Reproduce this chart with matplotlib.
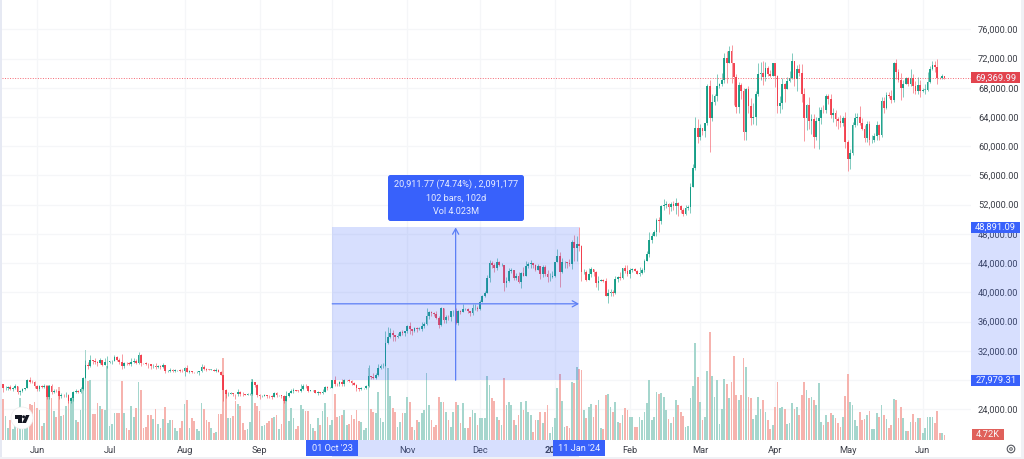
import numpy as np
import pandas as pd
import matplotlib
matplotlib.use("Agg")
import matplotlib.pyplot as plt
from matplotlib.patches import Rectangle, FancyBboxPatch, Circle, Polygon
from matplotlib.transforms import blended_transform_factory

plt.rcParams['font.family'] = ['Roboto', 'DejaVu Sans']

# daily bars, prices in thousands, volume in thousands
first_open = 27.40
closes = [
  26.85,26.88,27.10,26.75,26.85,27.22,26.33,26.47,26.72,26.86,28.07,27.75,27.70,27.22,
  26.82,27.25,27.07,27.12,25.73,27.24,26.34,26.50,26.48,25.85,25.92,25.90,25.92,25.12,25.58,26.33,26.51,26.34,26.84,28.31,30.00,29.89,30.69,30.55,30.47,30.27,30.69,30.08,30.45,30.47,
  30.59,30.62,31.16,30.77,30.51,29.90,30.35,30.29,30.17,30.41,30.62,30.39,31.47,30.32,30.30,30.25,30.14,29.86,29.92,29.80,29.91,29.79,30.08,29.18,29.23,29.35,29.21,29.32,29.35,29.28,29.23,
  29.70,29.17,29.18,29.09,29.05,29.05,29.18,29.77,29.57,29.43,29.40,29.42,29.28,29.40,29.17,28.72,26.62,26.05,26.10,26.19,26.13,26.04,26.43,26.16,26.05,26.01,26.09,26.10,27.73,27.30,25.94,
  25.80,25.87,25.97,25.82,25.78,25.75,26.24,25.90,25.90,25.84,25.16,25.85,26.22,26.53,26.60,26.57,26.53,26.76,27.21,27.13,26.57,26.58,26.58,26.25,26.30,26.21,26.35,27.03,26.91,26.97,
  27.98,27.50,27.43,27.79,27.41,27.95,27.97,27.93,27.59,27.39,26.87,26.76,26.86,26.86,27.15,28.50,28.40,28.33,28.72,29.68,29.92,29.99,33.09,33.90,34.50,34.15,33.91,34.09,34.53,34.50,34.67,
  35.43,34.94,34.73,35.08,35.05,35.05,35.42,35.62,36.70,37.30,37.14,37.07,36.49,35.55,37.88,36.16,36.60,36.57,37.39,37.48,35.81,37.42,37.29,37.72,37.79,37.48,37.24,37.83,37.85,37.72,
  38.69,39.46,39.97,41.98,44.08,43.78,43.29,44.18,43.72,43.79,41.25,41.49,42.89,43.02,41.94,42.28,41.36,42.66,42.27,43.65,43.86,44.00,43.74,43.02,43.59,42.51,43.44,42.58,42.07,42.14,42.28,
  44.18,44.95,42.85,44.15,44.16,43.97,43.93,46.93,46.10,46.65,46.34,42.78,42.84,41.73,42.50,43.14,42.74,41.27,41.62,41.67,41.55,39.51,39.89,40.09,39.93,41.82,42.12,42.03,43.30,42.94,42.58,
  43.08,43.20,42.99,42.58,42.66,43.09,44.34,45.29,47.14,47.77,48.29,49.96,49.70,51.80,51.91,52.12,51.65,52.12,51.78,52.26,51.85,51.30,50.74,51.57,51.73,54.48,57.05,62.50,61.20,
  62.44,62.03,63.17,68.30,63.80,66.10,66.92,68.30,68.50,69.02,72.10,71.45,73.07,71.39,69.50,65.30,68.39,67.61,61.94,67.84,65.50,63.80,64.03,67.21,69.89,69.99,69.45,70.74,69.89,69.65,71.33,
  69.65,65.46,65.96,68.50,67.84,68.90,69.36,71.62,69.14,70.59,70.06,67.12,63.92,65.66,63.42,63.79,61.28,63.47,63.82,64.99,64.93,66.84,66.41,64.28,64.48,63.76,63.42,63.11,63.84,60.64,
  58.25,59.12,62.89,63.89,64.03,63.16,62.31,61.19,63.05,60.79,60.82,61.45,62.93,61.55,66.25,65.23,67.05,66.94,66.28,71.45,70.14,69.12,67.93,68.53,69.29,68.51,69.39,68.30,67.58,68.36,67.49,
  67.71,67.75,68.80,70.55,71.08,70.79,69.35,69.30,69.65,69.37]

highs = [
  27.5,27.2,27.15,27.3,27.05,27.5,27.2,26.6,26.9,26.9,28.2,28.45,28.0,27.85,
  27.3,27.3,27.35,27.45,27.15,27.35,27.4,26.8,26.75,26.55,26.2,26.05,26.4,26.05,25.75,26.45,26.8,26.65,27.0,28.4,30.8,30.5,31.4,30.8,31.05,30.65,31.0,30.7,31.0,31.3,
  30.65,30.8,31.4,31.3,31.0,31.5,30.45,30.45,30.45,31.05,31.0,30.95,31.8,31.6,30.4,30.45,30.35,30.25,30.2,30.4,30.0,30.0,30.3,30.1,29.35,29.65,29.55,29.5,29.4,29.45,29.5,
  29.75,30.05,29.4,29.3,29.1,29.2,29.25,30.15,30.05,29.7,29.55,29.45,29.45,29.65,29.5,29.2,28.75,26.8,26.3,26.3,26.25,26.15,26.8,26.55,26.3,26.1,26.2,26.2,28.1,27.75,27.5,
  26.1,25.95,26.1,26.0,25.9,26.0,26.4,26.4,25.95,25.95,25.9,26.5,26.4,26.8,26.85,26.7,26.65,27.4,27.45,27.4,27.15,26.7,26.65,26.7,26.45,26.4,26.8,27.25,27.2,27.05,
  28.05,28.6,27.65,27.85,28.1,28.2,28.05,28.1,27.95,27.7,27.45,26.95,27.1,26.95,27.3,30.0,28.6,28.95,29.0,30.2,30.2,30.3,34.7,35.2,35.1,34.8,34.2,34.45,34.7,34.85,34.7,
  35.6,35.95,34.95,35.25,35.3,35.3,35.9,35.95,37.9,37.5,37.4,37.25,37.4,36.75,38.0,37.9,36.85,36.85,37.5,37.65,37.85,37.65,37.6,38.4,37.9,37.8,37.5,38.4,38.4,38.15,
  38.95,39.65,40.2,42.4,44.4,44.3,44.0,44.7,44.35,44.0,43.8,42.1,43.4,43.4,43.1,42.7,42.8,42.75,43.5,44.3,44.2,44.4,44.0,43.9,43.95,43.6,43.7,43.8,43.1,42.6,42.9,
  44.2,45.9,45.5,44.7,44.3,44.2,44.5,47.2,47.9,47.7,48.9,46.5,43.2,43.0,43.4,43.5,43.2,42.9,42.2,41.8,41.8,41.9,40.5,40.5,40.3,42.2,42.2,42.8,43.3,43.8,43.7,
  43.3,43.4,43.4,43.1,43.5,43.4,44.5,45.6,48.2,48.1,48.6,50.2,50.3,52.0,52.8,52.5,52.2,52.4,52.5,52.9,52.4,52.0,51.5,51.9,51.9,54.9,57.5,64.0,63.7,
  63.0,62.4,63.2,68.5,69.0,67.1,67.2,69.9,68.7,70.0,72.8,73.0,73.7,73.8,71.2,69.9,68.8,68.7,68.0,68.0,68.2,66.6,65.9,67.5,71.4,71.5,71.6,71.5,71.0,70.4,71.4,
  71.3,69.8,66.9,69.3,68.7,69.5,70.3,72.7,71.7,71.1,71.2,71.3,67.9,65.8,66.8,64.4,64.4,64.0,65.4,65.3,65.6,67.2,67.2,67.1,65.2,65.0,64.0,64.3,64.2,64.7,
  60.8,59.6,63.3,64.5,64.6,65.5,63.8,62.9,63.5,63.4,61.5,61.8,63.4,63.1,66.7,66.7,67.4,67.4,67.7,71.5,71.9,70.6,70.0,69.0,69.5,69.5,70.6,69.9,68.9,69.5,69.0,
  67.9,68.5,70.2,71.0,71.7,71.6,71.9,69.5,69.9,69.6]

lows = [
  26.4,26.65,26.7,26.7,26.55,26.8,26.1,25.9,26.3,26.6,26.85,27.55,27.55,26.85,
  26.5,26.5,26.95,26.95,25.4,25.35,26.1,26.25,26.3,25.4,25.6,25.7,25.75,24.85,24.8,25.2,26.2,26.2,26.25,26.65,28.25,29.55,29.8,30.25,30.25,29.95,30.2,29.9,30.05,29.6,
  30.3,30.2,30.55,30.6,30.2,29.5,29.7,30.05,30.05,29.95,30.3,30.2,30.2,29.9,30.25,30.1,29.7,29.5,29.7,29.55,29.7,29.5,29.7,28.9,29.05,29.1,29.05,29.1,29.25,29.05,29.1,
  28.6,29.1,29.0,28.95,28.95,28.95,28.7,29.15,29.35,29.3,29.35,29.35,29.25,29.1,29.1,28.7,25.2,25.6,25.8,26.05,25.85,25.4,25.8,25.85,25.8,25.95,25.95,25.9,26.0,27.0,25.7,
  25.35,25.65,25.8,25.6,25.55,25.4,25.65,25.65,25.85,25.55,24.9,25.15,25.75,26.2,26.2,26.45,26.4,26.4,26.65,26.85,26.35,26.5,26.5,26.2,26.0,26.1,26.1,26.35,26.7,26.85,
  26.95,27.2,27.15,27.2,27.2,27.2,27.85,27.75,27.3,27.3,26.55,26.55,26.7,26.8,26.8,27.1,28.1,28.15,28.2,28.6,29.5,29.7,29.9,32.9,33.7,33.4,33.4,33.8,34.0,34.1,34.05,
  34.4,34.3,34.1,34.6,34.6,34.8,34.75,35.1,35.55,36.3,36.75,36.75,36.3,35.1,35.4,35.85,35.85,36.2,36.1,36.7,35.7,35.6,37.05,37.25,37.6,37.2,36.75,36.9,37.55,37.5,
  37.6,38.65,39.3,39.95,41.4,43.35,42.8,43.1,43.6,43.55,40.2,40.7,41.45,42.7,41.7,41.7,41.3,40.55,42.2,42.2,43.3,43.3,43.3,42.9,43.0,41.8,42.1,42.3,41.4,41.5,41.95,
  42.15,44.15,40.8,42.6,43.4,43.4,43.65,43.2,44.3,44.35,45.6,41.5,42.45,41.6,41.7,42.05,42.2,40.7,40.3,41.5,41.45,39.45,38.6,39.5,39.5,39.8,41.4,41.7,41.8,42.7,42.3,
  41.9,42.8,42.9,42.5,42.3,42.55,42.8,44.3,44.8,46.8,47.7,47.7,48.3,49.3,51.3,51.6,50.7,51.2,51.3,50.7,50.5,50.9,50.5,50.6,51.3,50.9,54.4,56.8,60.4,
  60.8,61.6,61.3,62.9,59.2,63.5,65.6,66.2,68.0,68.2,68.7,68.7,71.4,68.6,65.6,64.6,64.6,66.5,60.8,60.8,64.6,62.9,63.0,62.9,66.9,69.0,68.4,68.9,69.6,69.5,69.6,
  68.1,64.5,64.5,65.1,66.0,67.8,68.8,69.2,68.2,67.5,69.6,66.0,60.7,62.2,62.3,61.7,59.7,60.8,59.6,63.1,64.5,64.6,65.8,63.9,63.3,62.8,62.4,62.6,62.7,59.7,
  56.6,56.9,58.8,62.6,62.9,62.9,62.2,60.6,60.6,60.2,60.5,60.6,60.8,60.8,61.3,64.6,65.1,66.6,65.9,66.1,69.2,68.8,66.3,66.7,68.5,68.2,68.3,67.3,67.1,67.1,66.7,
  67.4,67.2,67.6,68.6,70.4,70.2,68.5,69.2,69.2,69.2]

volumes = [
  41,24,12,20,11,18,14,42,16,12,14,36,35,38,
  32,30,14,17,55,55,42,29,23,53,24,25,34,44,41,47,20,18,30,60,90,59,60,26,26,37,34,31,30,74,
  14,16,27,27,27,59,27,12,10,34,23,32,58,50,12,13,25,25,21,31,16,12,21,33,17,20,20,12,9,12,19,
  36,40,12,22,19,11,9,37,31,20,18,12,7,8,26,26,82,47,22,22,24,39,36,34,17,10,11,18,61,37,34,
  29,14,15,17,19,22,23,25,11,16,39,41,19,32,22,11,14,35,31,29,29,16,12,9,22,15,29,37,23,15,
  20,46,23,24,25,30,15,16,25,21,30,19,18,10,12,72,31,28,27,48,22,18,75,72,44,32,28,13,18,27,27,
  43,38,13,10,20,18,27,30,67,35,20,13,15,43,38,38,28,20,13,28,38,35,17,37,12,12,23,30,27,15,
  22,22,22,64,55,42,39,23,20,15,62,35,38,35,20,15,25,38,30,39,28,25,8,20,20,28,17,28,35,7,13,
  22,52,66,39,13,14,12,58,57,73,71,70,30,22,33,36,23,35,40,12,11,45,46,33,28,38,18,17,25,32,30,
  23,23,13,13,23,20,28,37,60,20,23,48,46,47,43,30,21,17,23,40,35,28,24,13,14,42,54,97,63,
  38,20,23,69,108,64,43,60,16,31,61,56,42,58,84,45,40,45,82,73,43,42,21,25,43,31,40,28,20,11,15,
  33,58,32,33,31,16,17,37,31,33,25,45,58,50,42,43,40,35,57,18,15,25,18,27,25,22,17,13,23,44,
  66,38,35,20,14,28,20,21,25,29,11,11,27,23,35,25,21,12,15,41,40,22,33,22,9,9,18,26,18,22,22,
  7,12,23,23,23,17,29,7,7,4.72]

# 28,000 and Oct sit fully behind the tags in the picture, so they carry no label
price_ticks = [24000,28000,32000,36000,40000,44000,48000,52000,56000,60000,64000,68000,72000,76000]
price_labels = ['24,000.00','','32,000.00','36,000.00','40,000.00','44,000.00','48,000.00','52,000.00',
                '56,000.00','60,000.00','64,000.00','68,000.00','72,000.00','76,000.00']
month_starts = ['2023-06-01','2023-07-01','2023-08-01','2023-09-01','2023-10-01','2023-11-01','2023-12-01',
                '2024-01-01','2024-02-01','2024-03-01','2024-04-01','2024-05-01','2024-06-01']
month_labels = ['Jun','Jul','Aug','Sep','','Nov','Dec','2024','Feb','Mar','Apr','May','Jun']
measure_start, measure_end = '2023-10-01', '2024-01-11'
measure_low, measure_high = 27979.31, 48891.09
last_price = 69369.99

GREEN, RED = '#089981', '#f23645'
BLUE = '#3861fb'
TEXT = '#3c3f48'

closes = np.array(closes) * 1000
highs = np.array(highs) * 1000
lows = np.array(lows) * 1000
volumes = np.array(volumes)
opens = np.r_[first_open * 1000, closes[:-1]]
dates = pd.date_range('2023-05-18', periods=len(closes))
xs = np.arange(len(closes))
up = closes >= opens

def idx(day):
  return dates.get_loc(pd.Timestamp(day))

fig = plt.figure(figsize=(10.24, 4.59), dpi=100, facecolor='white')
axes_box = [2/1024, 19/459, 969/1024, 440/459]

# volume sits under the candles, 1K is one pixel high
ax_vol = fig.add_axes(axes_box)
ax_vol.bar(xs, volumes, width=0.72, color=np.where(up, '#a5d6cd', '#f6b3ae'))
ax_vol.set_xlim(-0.455, 399.96)
ax_vol.set_ylim(0, 440)
ax_vol.axis('off')

ax = fig.add_axes(axes_box)
ax.patch.set_alpha(0)
ax.set_xlim(-0.455, 399.96)
ax.set_ylim(19799, 80009)
for s in ax.spines.values():
  s.set_visible(False)

ax_vol.set_zorder(2)
ax.set_zorder(3)

# grid goes on its own axes so it stays under the volume bars
ax_grid = fig.add_axes(axes_box, zorder=1)
ax_grid.set_xlim(ax.get_xlim())
ax_grid.set_ylim(ax.get_ylim())
ax_grid.set_xticks([idx(d) for d in month_starts])
ax_grid.set_yticks(price_ticks)
ax_grid.grid(color='#f5f6f8', lw=0.9)
ax_grid.tick_params(length=0, labelbottom=False, labelleft=False)
for s in ax_grid.spines.values():
  s.set_visible(False)

ax.yaxis.tick_right()
ax.set_yticks(price_ticks)
ax.set_yticklabels(price_labels, fontsize=6.7, color=TEXT)
ax.set_xticks([idx(d) for d in month_starts])
ax.set_xticklabels(month_labels, fontsize=6.7, color=TEXT)
ax.get_xticklabels()[7].set_fontweight('bold')
ax.tick_params(axis='y', length=0, pad=5)
ax.tick_params(axis='x', length=0, pad=4)

# candles
ax.vlines(xs, lows, highs, colors=np.where(up, GREEN, RED), lw=0.65, alpha=0.55, zorder=3)
ax.bar(xs, np.abs(closes - opens), bottom=np.minimum(opens, closes), width=0.72,
       color=np.where(up, GREEN, RED), alpha=0.8, zorder=4)
ax.bar(xs, np.maximum(np.abs(closes - opens), 60), bottom=np.minimum(opens, closes), width=0.72,
       color=np.where(up, GREEN, RED), alpha=0.45, zorder=3.5)

# last price line
ax.axhline(last_price, color=RED, lw=0.7, ls=(0, (1, 1.6)), alpha=0.75, zorder=5)

# measure tool
x0, x1 = idx(measure_start), idx(measure_end)
xm = (x0 + x1) / 2
ym = (measure_low + measure_high) / 2
ax.add_patch(Rectangle((x0, measure_low), x1 - x0, measure_high - measure_low,
                       color=BLUE, alpha=0.2, lw=0, zorder=6))
arrow = dict(arrowstyle='->,head_width=0.22,head_length=0.4', color='#5c7ff5', lw=0.9, shrinkA=0, shrinkB=0)
ax.annotate('', xy=(x1, ym), xytext=(x0, ym), arrowprops=arrow, zorder=7)
ax.annotate('', xy=(xm, measure_high), xytext=(xm, measure_low), arrowprops=arrow, zorder=7)

# tooltip over the tool
overlay = fig.add_axes([0, 0, 1, 1], zorder=5)
overlay.set_xlim(0, 1024)
overlay.set_ylim(459, 0)
overlay.axis('off')
overlay.add_patch(FancyBboxPatch((390, 177), 132, 42, boxstyle='round,pad=2,rounding_size=2.5',
                                 fc=BLUE, ec='none'))
tip_lines = ['20,911.77 (74.74%) , 2,091,177', '102 bars, 102d', 'Vol 4.023M']
for tip_y, line in zip([184.5, 198, 211.5], tip_lines):
  overlay.text(456, tip_y, line, color='#e8edff', fontsize=6.6, ha='center', va='center')

# selection bands on the price and time scales
y_band = blended_transform_factory(ax.transAxes, ax.transData)
x_band = blended_transform_factory(ax.transData, ax.transAxes)
ax.add_patch(Rectangle((1, measure_low), 0.0505, measure_high - measure_low, transform=y_band,
                       color=BLUE, alpha=0.2, lw=0, clip_on=False, zorder=6))
ax.add_patch(Rectangle((x0, -0.0386), x1 - x0, 0.0386, transform=x_band,
                       color=BLUE, alpha=0.2, lw=0, clip_on=False, zorder=6))

# price scale labels
def price_tag(y_value, text, color, right=1.0505):
  ax.add_patch(Rectangle((1.0005, y_value - 750), right - 1.0005, 1500, transform=y_band,
                         color=color, lw=0, clip_on=False, zorder=8))
  ax.text((1.0005 + right) / 2, y_value, text, transform=y_band, color='#f4f6ff', fontsize=6.7,
          ha='center', va='center', zorder=9)

price_tag(last_price, '69,369.99', '#e2444e')
price_tag(measure_high, '48,891.09', BLUE)
price_tag(measure_low, '27,979.31', BLUE)

# last volume tag
overlay.add_patch(Rectangle((971.5, 429), 32, 11, color='#e0605a', lw=0))
overlay.text(987.5, 434.7, f'{volumes[-1]:.2f}K', color='#f8f8f8', fontsize=6.7, ha='center', va='center')

# date tags on the time scale
for day_x, label in [(x0, "01 Oct '23"), (x1, "11 Jan '24")]:
  ax.add_patch(Rectangle((day_x - 10.7, -0.0364), 21.4, 0.0364, transform=x_band,
                         color=BLUE, lw=0, clip_on=False, zorder=8))
  ax.text(day_x, -0.0185, label, transform=x_band, color='#f0f3ff', fontsize=6.7,
          ha='center', va='center', zorder=9)

# logo and settings button
overlay.add_patch(Circle((22, 418), 11, fc='white', ec='#eeeeee', lw=0.5))
logo = '#131722'
overlay.add_patch(Polygon([(15, 415), (21.5, 415), (21.5, 423), (18, 423), (18, 418.5), (15, 418.5)], fc=logo, lw=0))
overlay.add_patch(Circle((23.6, 416.8), 1.5, fc=logo, lw=0))
overlay.add_patch(Polygon([(26, 415), (29.5, 415), (26, 423), (22, 423)], fc=logo, lw=0))
overlay.add_patch(Circle((1011, 449), 3.8, fc='none', ec='#55585f', lw=0.8))
overlay.add_patch(Circle((1011, 449), 1.3, fc='none', ec='#55585f', lw=0.7))

# pale window frame
frame = '#e6e9f3'
overlay.add_patch(Rectangle((0, 0), 2, 459, color=frame, lw=0))
overlay.add_patch(Rectangle((1021, 0), 3, 459, color='#f0f1f5', lw=0))
overlay.add_patch(Rectangle((0, 457), 1024, 2, color='#f0f1f5', lw=0))

fig.savefig('out.png', dpi=100)
